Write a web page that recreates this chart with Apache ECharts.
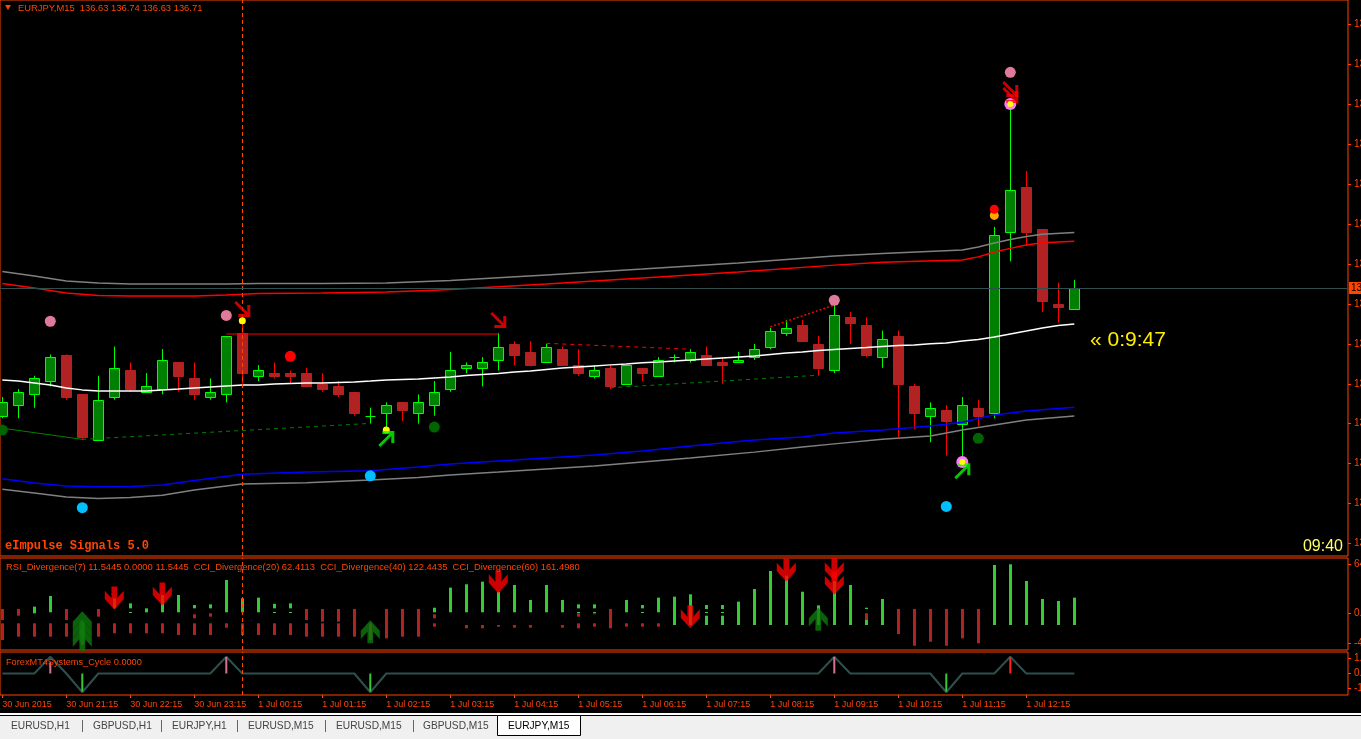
<!DOCTYPE html>
<html><head><meta charset="utf-8">
<script src="https://cdn.jsdelivr.net/npm/echarts@6/dist/echarts.min.js"></script>
<style>html,body{margin:0;padding:0;background:#000;overflow:hidden}#c{width:1361px;height:739px}</style>
</head><body><div id="c"></div><script>
// ---------- DATA ----------
const timeLabels = ['30 Jun 2015','30 Jun 21:15','30 Jun 22:15','30 Jun 23:15','1 Jul 00:15','1 Jul 01:15','1 Jul 02:15','1 Jul 03:15','1 Jul 04:15','1 Jul 05:15','1 Jul 06:15','1 Jul 07:15','1 Jul 08:15','1 Jul 09:15','1 Jul 10:15','1 Jul 11:15','1 Jul 12:15'];
const timeTickBars = [0,4,8,12,16,20,24,28,32,36,40,44,48,52,56,60,64];
const priceTicks = [135.75,135.90,136.05,136.20,136.35,136.50,136.65,136.80,136.95,137.10,137.25,137.40,137.55,137.70];
const sub1Ticks = [64,0,-40];
const sub2Ticks = [1,0,-1];

const openP = [136.23,136.27,136.31,136.36,136.46,136.31,136.14,136.30,136.40,136.32,136.33,136.43,136.37,136.30,136.31,136.54,136.38,136.39,136.39,136.39,136.35,136.34,136.32,136.23,136.24,136.28,136.24,136.27,136.33,136.41,136.41,136.44,136.50,136.47,136.43,136.48,136.42,136.38,136.41,136.35,136.41,136.38,136.45,136.44,136.46,136.43,136.43,136.45,136.49,136.54,136.57,136.50,136.40,136.60,136.57,136.45,136.53,136.34,136.23,136.25,136.20,136.26,136.24,136.92,137.09,136.93,136.65,136.63];
const closeP = [136.28,136.32,136.37,136.45,136.30,136.15,136.29,136.41,136.33,136.34,136.44,136.38,136.31,136.32,136.53,136.39,136.40,136.38,136.38,136.34,136.33,136.31,136.24,136.23,136.27,136.25,136.28,136.32,136.40,136.42,136.43,136.49,136.46,136.42,136.49,136.42,136.39,136.40,136.34,136.42,136.39,136.44,136.45,136.47,136.42,136.42,136.44,136.48,136.55,136.56,136.51,136.41,136.61,136.58,136.46,136.52,136.35,136.24,136.26,136.21,136.27,136.23,136.91,137.08,136.92,136.66,136.64,136.71];
const lowP = [136.22,136.22,136.26,136.34,136.29,136.14,136.14,136.29,136.32,136.32,136.31,136.32,136.29,136.29,136.28,136.35,136.36,136.37,136.35,136.34,136.32,136.30,136.23,136.20,136.18,136.21,136.20,136.23,136.32,136.39,136.34,136.40,136.42,136.42,136.43,136.42,136.38,136.37,136.33,136.35,136.36,136.38,136.43,136.43,136.42,136.35,136.43,136.44,136.48,136.53,136.51,136.38,136.39,136.50,136.45,136.41,136.15,136.18,136.13,136.08,136.06,136.19,136.22,136.81,136.87,136.62,136.58,136.63];
const highP = [136.30,136.33,136.38,136.46,136.46,136.31,136.38,136.49,136.43,136.39,136.48,136.43,136.43,136.37,136.53,136.58,136.42,136.43,136.40,136.41,136.39,136.36,136.32,136.26,136.28,136.28,136.31,136.36,136.47,136.43,136.45,136.54,136.51,136.51,136.50,136.49,136.48,136.42,136.42,136.42,136.41,136.45,136.46,136.48,136.49,136.45,136.47,136.50,136.56,136.59,136.59,136.53,136.65,136.62,136.60,136.55,136.55,136.35,136.28,136.27,136.30,136.29,136.94,137.40,137.15,136.93,136.73,136.74];

const maLine = [136.364,136.360,136.353,136.345,136.334,136.327,136.323,136.323,136.323,136.323,136.327,136.330,136.334,136.338,136.342,136.345,136.345,136.349,136.351,136.353,136.353,136.355,136.357,136.360,136.364,136.366,136.368,136.372,136.375,136.381,136.385,136.389,136.394,136.398,136.404,136.409,136.413,136.417,136.421,136.424,136.429,136.432,136.436,136.439,136.443,136.447,136.451,136.454,136.460,136.466,136.469,136.475,136.479,136.483,136.486,136.490,136.494,136.496,136.500,136.503,136.511,136.516,136.526,136.537,136.548,136.560,136.569,136.575];

const bandRedUp = [[0,136.727],[2,136.710],[4,136.691],[6,136.682],[8,136.680],[12,136.680],[14,136.684],[16,136.689],[20,136.691],[24,136.695],[27,136.702],[28,136.704],[34,136.725],[40,136.748],[46,136.770],[52,136.796],[55,136.807],[60,136.815],[61,136.827],[62,136.845],[63,136.859],[64,136.872],[65,136.880],[67,136.886]];
const bandGrayUp = [[0,136.772],[2,136.755],[4,136.736],[6,136.729],[8,136.725],[12,136.725],[14,136.725],[16,136.727],[20,136.727],[24,136.729],[28,136.738],[34,136.759],[40,136.781],[46,136.804],[52,136.830],[55,136.840],[60,136.853],[61,136.864],[62,136.879],[63,136.892],[64,136.904],[65,136.912],[67,136.919]];
const bandBlueLo = [[0,135.993],[2,135.977],[4,135.966],[6,135.963],[8,135.964],[10,135.969],[12,135.986],[15,136.010],[19,136.018],[23,136.023],[26,136.037],[28,136.048],[31,136.060],[34,136.071],[37,136.082],[40,136.097],[43,136.116],[47,136.139],[50,136.150],[52,136.165],[55,136.176],[58,136.191],[60,136.205],[62,136.233],[64,136.248],[67,136.262]];
const bandGrayLo = [[0,135.953],[2,135.939],[4,135.924],[6,135.919],[8,135.922],[10,135.931],[12,135.951],[15,135.973],[19,135.978],[23,135.988],[26,135.998],[28,136.007],[31,136.018],[34,136.030],[37,136.041],[40,136.056],[43,136.071],[47,136.093],[50,136.112],[52,136.124],[55,136.141],[58,136.154],[60,136.176],[62,136.195],[64,136.214],[67,136.229]];

const divRedSolid = [[14,136.537],[31,136.537]];
const divRedDashed = [[34,136.502],[43,136.480]];
const divRedDotted = [[48,136.564],[52,136.646]];
const divGreenSolid = [[0,136.183],[5,136.141]];
const divGreenDashed1 = [[5,136.141],[23,136.201]];
const divGreenDashed2 = [[38,136.335],[51,136.382]];

const pinkDots = [[3,136.585],[14,136.607],[52,136.664],[63,137.521]];
const redDots = [[18,136.453]];
const smallRedDots = [[62,137.006]];
const orangeDots = [[62,136.983]];
const yellowDots = [[15,136.587],[24,136.176]];
const darkGreenDots = [[0,136.176],[27,136.187],[61,136.145]];
const cyanDots = [[5,135.884],[23,136.004],[59,135.889]];
const violetRings = [[63,137.402],[60,136.056]];
const sellArrows = [[15,136.631],[31,136.590],[63,137.458],[63,137.436]];
const buyArrows = [[24,136.142],[60,136.021]];
const currentPrice = 136.71;
const cursorBar = 15;

const histGreen = [[2,-0.4,8.3],[3,0.9,22.2],[7,6.1,19.2],[8,6.1,12.6],[8,0.5,1.3],[9,0.9,6.1],[10,0.9,23.5],[11,0.9,23.5],[12,6.1,10.4],[13,6.1,11.3],[14,0.9,43.1],[15,0.9,19.2],[16,0.9,20.0],[17,6.1,12.0],[17,0.5,1.3],[18,6.1,12.6],[18,0.5,1.3],[27,0.9,6.9],[28,0.9,33.1],[29,0.9,37.5],[30,0.9,40.9],[31,0.9,27.8],[32,0.9,36.6],[33,0.9,17.0],[34,0.9,36.6],[35,0.9,17.0],[36,6.1,11.3],[36,0.5,1.3],[37,6.1,11.3],[37,0.5,1.3],[39,0.9,17.0],[40,6.1,10.4],[40,0.5,1.3],[41,0.9,20.0],[42,-15.7,21.3],[43,-15.7,24.4],[44,5.2,10.4],[44,0.5,1.3],[44,-15.7,-3.5],[45,5.2,10.4],[45,0.5,1.3],[45,-15.7,-3.5],[46,-15.7,14.8],[47,-15.7,31.3],[48,-15.7,54.9],[49,-15.7,48.8],[50,-15.7,27.8],[51,-15.7,10.0],[52,-15.7,41.8],[53,-15.7,36.6],[54,5.2,6.9],[54,-15.7,-9.1],[55,-15.7,18.3],[62,-15.7,62.7],[63,-15.7,63.6],[64,-15.7,41.8],[65,-15.7,18.3],[66,-15.7,15.7],[67,-15.7,20.0]];
const histRed = [[0,-9.1,5.2],[0,-35.3,-13.5],[1,-3.5,5.2],[1,-30.9,-13.5],[2,-30.9,-13.5],[3,-30.9,-13.5],[4,-9.1,5.2],[4,-30.9,-13.5],[5,-41.8,-13.5],[6,-4.8,5.2],[6,-30.9,-13.5],[7,-26.5,-13.5],[8,-26.5,-13.5],[9,-26.5,-13.5],[10,-26.5,-13.5],[11,-28.7,-13.5],[12,-6.9,-1.7],[12,-28.7,-13.5],[13,-4.8,-0.4],[13,-28.7,-13.5],[14,-19.2,-13.5],[15,-28.7,-13.5],[16,-28.7,-13.5],[17,-28.7,-13.5],[18,-28.7,-13.5],[19,-9.1,5.2],[19,-30.9,-13.5],[20,-11.3,5.2],[20,-30.9,-13.5],[21,-11.3,5.2],[21,-30.9,-13.5],[22,-30.9,5.2],[23,-35.3,-13.5],[24,-33.1,5.2],[25,-30.9,5.2],[26,-30.9,5.2],[27,-6.9,-1.7],[27,-17.9,-13.5],[29,-20.0,-15.7],[30,-20.0,-15.7],[31,-17.9,-15.7],[32,-19.2,-15.7],[33,-19.2,-15.7],[35,-19.2,-15.7],[36,-4.8,-0.4],[36,-20.0,-13.5],[37,-1.7,-0.4],[37,-17.9,-13.5],[38,-20.0,5.2],[39,-17.9,-13.5],[40,-17.9,-13.5],[41,-17.9,-13.5],[54,-9.1,-0.4],[56,-27.4,5.2],[57,-42.7,5.2],[58,-37.5,5.2],[59,-42.7,5.2],[60,-33.1,5.2],[61,-39.6,5.2]];
const subDownArrows = [[7,19.6],[10,24.8],[31,40.9],[43,-4.8],[49,56.2],[52,56.8],[52,39.2]];
const subUpArrows = [[5,-12.7],[5,-23.5],[5,-34.4],[23,-24.4],[51,-8.1]];

const cycleLine = [0,0,0,1.12,0,-1.25,0,0,0,0,0,0,0,0,1.12,0,0,0,0,0,0,0,0,-1.25,0,0,0,0,0,0,0,0,0,0,0,0,0,0,0,0,0,0,0,0,0,0,0,0,0,0,0,0,1.12,0,0,0,0,0,0,-1.25,0,0,0,1.12,0,0,0,0];
const cyclePink = [[3,0.75],[14,1.1],[52,1.1]];
const cycleRed = [[63,1.1]];
const cycleGreen = [[5,-1.2],[23,-1.2],[59,-1.2]];

const tabNames = ['EURUSD,H1','GBPUSD,H1','EURJPY,H1','EURUSD,M15','EURUSD,M15','GBPUSD,M15','EURJPY,M15'];

// ---------- CHART ----------
const OR = '#ff4500';
const FONT = 'Liberation Sans';
const chart = echarts.init(document.getElementById('c'), null, {renderer:'canvas', width:1361, height:739});
const candles = openP.map((o,i)=>[i,o,closeP[i],lowP[i],highP[i]]);
const xMin = -0.14375, xMax = 84.10625;

function renderCandle(params, api){
  const i=api.value(0), o=api.value(1), c=api.value(2), l=api.value(3), h=api.value(4);
  const pO=api.coord([i,o]), pC=api.coord([i,c]), pL=api.coord([i,l]), pH=api.coord([i,h]);
  const x=Math.round(pO[0])+0.5;
  const w=Math.round(api.size([1,0])[0]*0.625);
  const up=c>=o;
  const top=Math.round(Math.min(pO[1],pC[1]))+0.5, bot=Math.round(Math.max(pO[1],pC[1]))+0.5;
  const ch=[{type:'line',shape:{x1:x,y1:pH[1],x2:x,y2:pL[1]},style:{stroke:up?'#00ff00':'#ff0000',lineWidth:1}}];
  if(bot-top<1){
    ch.push({type:'line',shape:{x1:x-w/2,y1:top,x2:x+w/2,y2:top},style:{stroke:'#00ff00',lineWidth:1}});
  } else {
    ch.push({type:'rect',shape:{x:x-w/2,y:top,width:w,height:bot-top},style:{fill:up?'#008000':'#b22222',stroke:up?'#00ff00':'#b22222',lineWidth:1}});
  }
  return {type:'group',children:ch};
}
function segRenderer(color){
  return function(params, api){
    const i=api.value(0), lo=api.value(1), hi=api.value(2);
    const p1=api.coord([i,hi]), p2=api.coord([i,lo]);
    return {type:'rect',shape:{x:Math.round(p1[0])-1,y:p1[1],width:3,height:Math.max(p2[1]-p1[1],1)},style:{fill:color}};
  };
}
const ARROW_DR='path://M2,0 L13,11 L13,4 L16,4 L16,16 L4,16 L4,13 L11,13 L0,2 Z';
const ARROW_UR='path://M2,16 L13,5 L13,12 L16,12 L16,0 L4,0 L4,3 L11,3 L0,14 Z';
const ARROW_DN='path://M7,0 L13,0 L13,11 L20,4 L20,12 L10,22 L0,12 L0,4 L7,11 Z';
const ARROW_UP='path://M7,22 L13,22 L13,11 L20,18 L20,10 L10,0 L0,10 L0,18 L7,11 Z';

function lineS(data, color, width, type, z){
  return {type:'line',xAxisIndex:0,yAxisIndex:0,data,showSymbol:false,symbol:'none',silent:true,
    lineStyle:{color,width,type:type||'solid'},z:z||3,animation:false};
}
function dots(data, color, size, z){
  return {type:'scatter',xAxisIndex:0,yAxisIndex:0,data,symbol:'circle',symbolSize:size,silent:true,
    itemStyle:{color,opacity:1},z:z||5,animation:false};
}
const vLine = {silent:true,symbol:['none','none'],animation:false,label:{show:false},
  data:[{xAxis:cursorBar,lineStyle:{color:OR,type:[4,3],width:1}}]};

const yAxisCommon = {position:'right',axisLine:{show:false,onZero:false},splitLine:{show:false},
  axisTick:{show:true,length:3,inside:false,lineStyle:{color:OR}},
  axisLabel:{show:true,color:OR,fontSize:10,fontFamily:FONT,margin:6}};
const xAxisCommon = {type:'value',min:xMin,max:xMax,position:'bottom',axisLine:{show:false,onZero:false},axisTick:{show:false},axisLabel:{show:false},splitLine:{show:false}};

const option = {
  backgroundColor:'#000',
  animation:false,
  grid:[
    {left:0,top:0,width:1348,height:556,show:true,borderColor:OR,borderWidth:1,backgroundColor:'#000',outerBoundsMode:'none',containLabel:false},
    {left:0,top:558,width:1348,height:92,show:true,borderColor:OR,borderWidth:1,backgroundColor:'#000',outerBoundsMode:'none',containLabel:false},
    {left:0,top:652,width:1348,height:43,show:true,borderColor:OR,borderWidth:1,backgroundColor:'#000',outerBoundsMode:'none',containLabel:false}
  ],
  xAxis:[
    Object.assign({gridIndex:0},xAxisCommon),
    Object.assign({gridIndex:1},xAxisCommon),
    Object.assign({},xAxisCommon,{gridIndex:2,
      axisTick:{show:true,length:3,inside:false,lineStyle:{color:OR},customValues:timeTickBars},
      axisLabel:{show:true,color:OR,fontSize:9,fontFamily:FONT,margin:5,align:'left',customValues:timeTickBars,
        formatter:v=>timeLabels[timeTickBars.indexOf(Math.round(v))]||''}})
  ],
  yAxis:[
    Object.assign({},yAxisCommon,{gridIndex:0,type:'value',min:135.70248,max:137.79271,
      axisTick:Object.assign({},yAxisCommon.axisTick,{customValues:priceTicks}),
      axisLabel:Object.assign({},yAxisCommon.axisLabel,{customValues:priceTicks,formatter:v=>v.toFixed(2)})}),
    Object.assign({},yAxisCommon,{gridIndex:1,type:'value',min:-48.327,max:71.837,
      axisTick:Object.assign({},yAxisCommon.axisTick,{customValues:sub1Ticks}),
      axisLabel:Object.assign({},yAxisCommon.axisLabel,{customValues:sub1Ticks,formatter:v=>v.toFixed(4)})}),
    Object.assign({},yAxisCommon,{gridIndex:2,type:'value',min:-1.4333,max:1.4333,
      axisTick:Object.assign({},yAxisCommon.axisTick,{customValues:sub2Ticks}),
      axisLabel:Object.assign({},yAxisCommon.axisLabel,{customValues:sub2Ticks,formatter:v=>v.toFixed(4)})})
  ],
  series:[
    {type:'custom',xAxisIndex:0,yAxisIndex:0,data:candles,renderItem:renderCandle,encode:{x:0,y:[1,2,3,4]},clip:true,silent:true,z:2},
    lineS(bandGrayUp,'#808080',1.5),
    lineS(bandRedUp,'#ff0000',1.5),
    lineS(bandBlueLo,'#0000ff',1.5),
    lineS(bandGrayLo,'#808080',1.5),
    Object.assign(lineS(maLine.map((v,i)=>[i,v]),'#ffffff',1.5,'solid',4),{
      markLine:{silent:true,symbol:['none','none'],animation:false,
        data:[
          {xAxis:cursorBar,lineStyle:{color:OR,type:[4,3],width:1},label:{show:false}},
          {yAxis:currentPrice,lineStyle:{color:'#2f4f4f',type:'solid',width:1},
            label:{show:true,position:'end',distance:1,formatter:currentPrice.toFixed(2),color:'#000',backgroundColor:OR,
              padding:[1,2,1,2],fontSize:10,fontFamily:FONT}}
        ]}}),
    lineS(divRedSolid,'#ff0000',1),
    lineS(divRedDashed,'#ff0000',1,[4,4]),
    lineS(divRedDotted,'#ff0000',1.5,[2,2]),
    lineS(divGreenSolid,'#008000',1),
    lineS(divGreenDashed1,'#008000',1,[4,4]),
    lineS(divGreenDashed2,'#008000',1,[4,4]),
    dots(pinkDots,'#e07a9a',11),
    dots(redDots,'#ff0000',11),
    dots(orangeDots,'#ffa500',9),
    dots(smallRedDots,'#ff0000',9,6),
    dots(yellowDots,'#ffff00',7),
    dots(darkGreenDots,'#006400',11),
    dots(cyanDots,'#00bfff',11),
    dots(violetRings,'#ff77ff',12,6),
    dots(violetRings,'#ffff00',6,7),
    {type:'scatter',xAxisIndex:0,yAxisIndex:0,data:sellArrows,symbol:ARROW_DR,symbolSize:[16,16],itemStyle:{color:'#ff0000'},silent:true,z:6},
    {type:'scatter',xAxisIndex:0,yAxisIndex:0,data:buyArrows,symbol:ARROW_UR,symbolSize:[16,16],itemStyle:{color:'#00ff00'},silent:true,z:6},
    // sub window 1
    {type:'custom',xAxisIndex:1,yAxisIndex:1,data:histRed,renderItem:segRenderer('#b22222'),encode:{x:0,y:[1,2]},clip:true,silent:true,z:2},
    {type:'custom',xAxisIndex:1,yAxisIndex:1,data:histGreen,renderItem:segRenderer('#32cd32'),encode:{x:0,y:[1,2]},clip:true,silent:true,z:2},
    {type:'scatter',xAxisIndex:1,yAxisIndex:1,data:subDownArrows,symbol:ARROW_DN,symbolSize:[19,23],itemStyle:{color:'#ff0000'},silent:true,z:5,markLine:vLine},
    {type:'scatter',xAxisIndex:1,yAxisIndex:1,data:subUpArrows,symbol:ARROW_UP,symbolSize:[19,23],itemStyle:{color:'#0e7a0e'},silent:true,z:5},
    // sub window 2
    {type:'line',xAxisIndex:2,yAxisIndex:2,data:cycleLine.map((v,i)=>[i,v]),showSymbol:false,symbol:'none',silent:true,
      lineStyle:{color:'#2f4f4f',width:2},z:3,markLine:vLine},
    {type:'bar',xAxisIndex:2,yAxisIndex:2,data:cyclePink,barWidth:2,itemStyle:{color:'#db7093'},silent:true,z:4},
    {type:'bar',xAxisIndex:2,yAxisIndex:2,data:cycleRed,barWidth:2,barGap:'-100%',itemStyle:{color:'#ff2020'},silent:true,z:4},
    {type:'bar',xAxisIndex:2,yAxisIndex:2,data:cycleGreen,barWidth:2,barGap:'-100%',itemStyle:{color:'#32cd32'},silent:true,z:4}
  ],
  graphic:[
    {type:'polygon',shape:{points:[[5,5],[11,5],[8,10]]},style:{fill:OR},z:100,silent:true},
    {type:'text',x:18,y:8,style:{text:'EURJPY,M15  136.63 136.74 136.63 136.71',fill:OR,fontSize:9.4,fontFamily:FONT,verticalAlign:'middle'},z:100,silent:true},
    {type:'text',x:6,y:567,style:{text:'RSI_Divergence(7) 11.5445 0.0000 11.5445  CCI_Divergence(20) 62.4113  CCI_Divergence(40) 122.4435  CCI_Divergence(60) 161.4980',fill:OR,fontSize:9.4,fontFamily:FONT,verticalAlign:'middle'},z:100,silent:true},
    {type:'text',x:6,y:662,style:{text:'ForexMT4Systems_Cycle 0.0000',fill:OR,fontSize:9.2,fontFamily:FONT,verticalAlign:'middle'},z:100,silent:true},
    {type:'text',x:5,y:546,style:{text:'eImpulse Signals 5.0',fill:OR,fontSize:12,fontWeight:'bold',fontFamily:'Liberation Mono',verticalAlign:'middle'},z:100,silent:true},
    {type:'text',x:1343,y:547,style:{text:'09:40',fill:'#ffff66',fontSize:16,fontFamily:FONT,align:'right',verticalAlign:'middle'},z:100,silent:true},
    {type:'text',x:1090,y:340,style:{text:'\u00ab 0:9:47',fill:'#ffee00',fontSize:21,fontFamily:FONT,verticalAlign:'middle'},z:100,silent:true},
    // tab bar
    {type:'rect',shape:{x:0,y:713,width:1361,height:2},style:{fill:'#ffffff'},z:100,silent:true},
    {type:'rect',shape:{x:0,y:715,width:1361,height:1},style:{fill:'#000000'},z:100,silent:true},
    {type:'rect',shape:{x:0,y:716,width:1361,height:23},style:{fill:'#f0f0f0'},z:100,silent:true},
    {type:'rect',shape:{x:497.5,y:715.5,width:83,height:20},style:{fill:'#ffffff',stroke:'#000',lineWidth:1},z:101,silent:true},
    {type:'text',x:11,y:726,style:{text:tabNames[0],fill:'#444',fontSize:10.2,fontFamily:FONT,verticalAlign:'middle'},z:102,silent:true},
    {type:'text',x:93,y:726,style:{text:tabNames[1],fill:'#444',fontSize:10.2,fontFamily:FONT,verticalAlign:'middle'},z:102,silent:true},
    {type:'text',x:172,y:726,style:{text:tabNames[2],fill:'#444',fontSize:10.2,fontFamily:FONT,verticalAlign:'middle'},z:102,silent:true},
    {type:'text',x:248,y:726,style:{text:tabNames[3],fill:'#444',fontSize:10.2,fontFamily:FONT,verticalAlign:'middle'},z:102,silent:true},
    {type:'text',x:336,y:726,style:{text:tabNames[4],fill:'#444',fontSize:10.2,fontFamily:FONT,verticalAlign:'middle'},z:102,silent:true},
    {type:'text',x:423,y:726,style:{text:tabNames[5],fill:'#444',fontSize:10.2,fontFamily:FONT,verticalAlign:'middle'},z:102,silent:true},
    {type:'text',x:508,y:726,style:{text:tabNames[6],fill:'#000',fontSize:10.2,fontFamily:FONT,verticalAlign:'middle'},z:102,silent:true},
    {type:'line',shape:{x1:82.5,y1:720,x2:82.5,y2:732},style:{stroke:'#666',lineWidth:1},z:102,silent:true},
    {type:'line',shape:{x1:161.5,y1:720,x2:161.5,y2:732},style:{stroke:'#666',lineWidth:1},z:102,silent:true},
    {type:'line',shape:{x1:237.5,y1:720,x2:237.5,y2:732},style:{stroke:'#666',lineWidth:1},z:102,silent:true},
    {type:'line',shape:{x1:325.5,y1:720,x2:325.5,y2:732},style:{stroke:'#666',lineWidth:1},z:102,silent:true},
    {type:'line',shape:{x1:413.5,y1:720,x2:413.5,y2:732},style:{stroke:'#666',lineWidth:1},z:102,silent:true}
  ]
};
chart.setOption(option);
</script></body></html>
